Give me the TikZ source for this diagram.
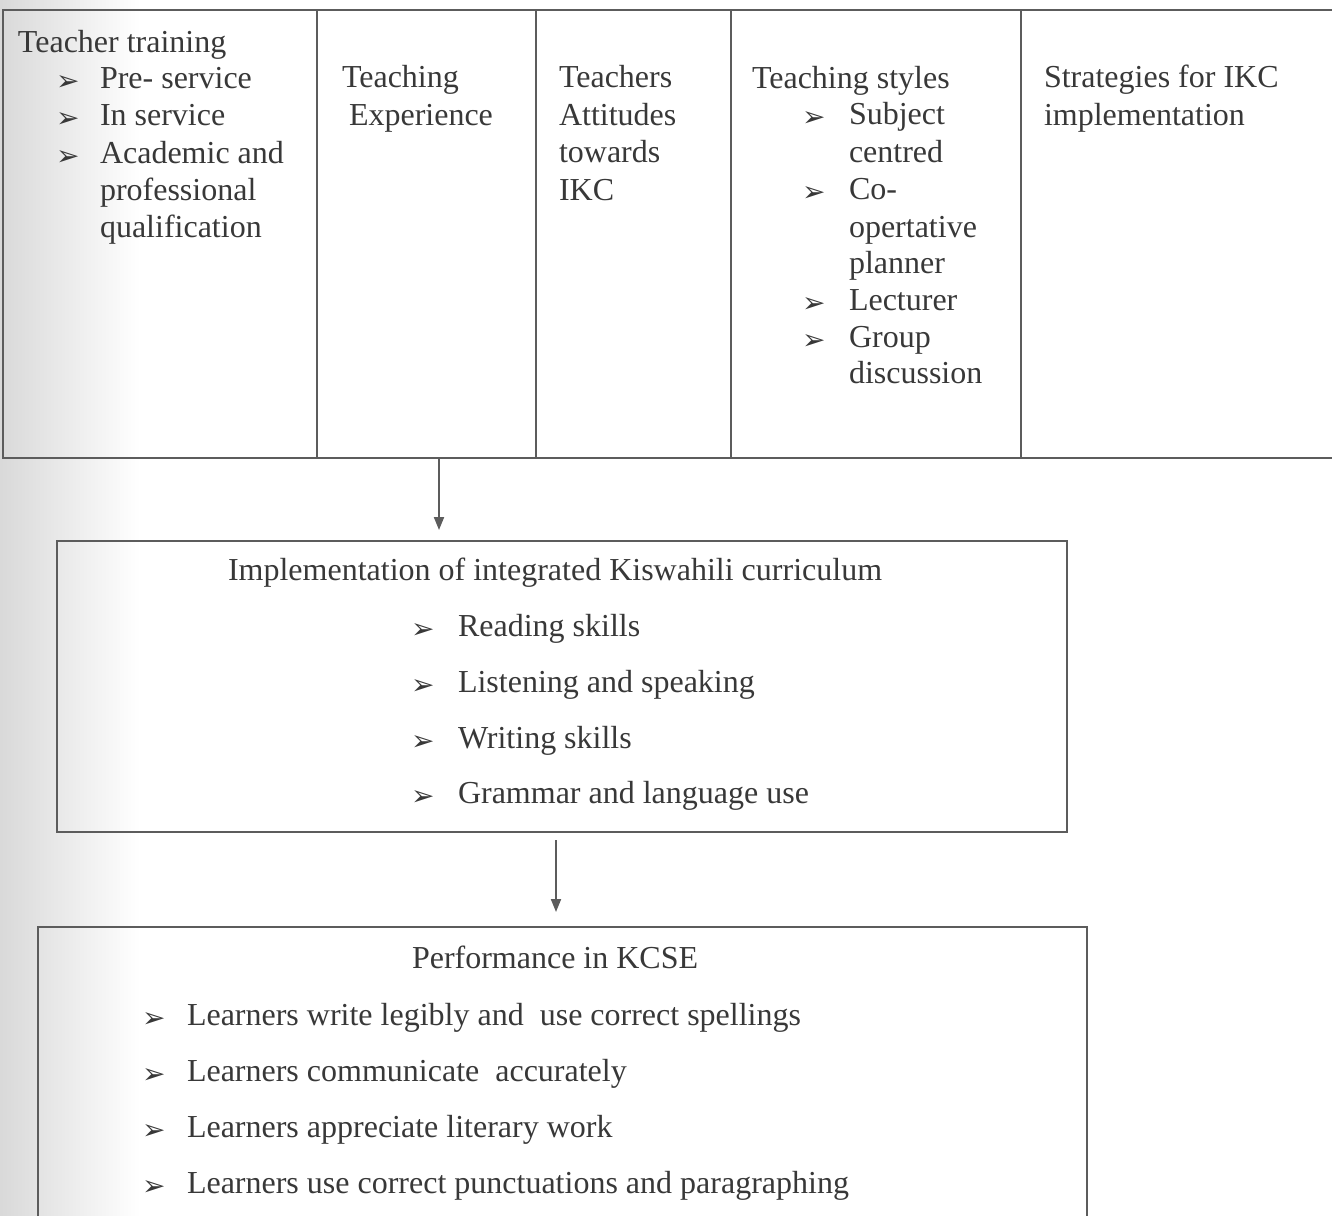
\documentclass[tikz,border=0pt]{standalone}
\usepackage{fontspec}
\setmainfont{Liberation Serif}
\newfontfamily\dvs{DejaVu Sans}
\usetikzlibrary{arrows.meta}
\definecolor{ink}{HTML}{383838}
\definecolor{rule}{HTML}{5C5C5C}
\begin{document}
\begin{tikzpicture}[x=0.5pt,y=-0.5pt,
  txt/.style={anchor=base west,inner sep=0pt,outer sep=0pt,font=\fontsize{16}{19}\selectfont,text=ink},
  bul/.style={anchor=base west,inner sep=0pt,outer sep=0pt,font=\dvs\fontsize{14}{16}\selectfont,text=ink},
  frame/.style={draw=rule,line width=1pt,inner sep=0pt,outer sep=0pt},
  arr/.style={draw=rule,line width=1pt,-{Triangle[length=6.5pt,width=5pt]}}]
\useasboundingbox (0,0) rectangle (1332,1215);
\clip (0,0) rectangle (1332,1215);
\shade[left color=gray!30,right color=white] (0,0) rectangle (140,1215);
% top row
\node[frame,minimum width=157pt,minimum height=224pt] (b1) at (160,234) {};
\node[frame,minimum width=109.5pt,minimum height=224pt] (b2) at (426.5,234) {};
\node[frame,minimum width=97.5pt,minimum height=224pt] (b3) at (633.5,234) {};
\node[frame,minimum width=145pt,minimum height=224pt] (b4) at (876,234) {};
\node[frame,minimum width=162pt,minimum height=224pt] (b5) at (1183,234) {};
% middle and bottom boxes
\node[frame,minimum width=505pt,minimum height=145.5pt] (mid) at (562,686.5) {};
\node[frame,minimum width=524.5pt,minimum height=151.5pt] (bot) at (562.5,1078.5) {};
% connectors
\coordinate (a1) at (439,458);
\coordinate (a2) at (556,832);
\draw[arr,shorten >=5.5pt] (a1) -- (a1 |- mid.north);
\draw[arr,shorten <=4pt,shorten >=7.5pt] (a2) -- (a2 |- bot.north);
% box 1
\node[txt] (t11) at (18,52) {Teacher training};
\node[bul] (k11) at (56,90) {➢};
\node[txt] (t12) at (100,88) {Pre- service};
\node[bul] (k12) at (56,127) {➢};
\node[txt] (t13) at (100,125) {In service};
\node[bul] (k13) at (56,165) {➢};
\node[txt] (t14) at (100,163) {Academic and};
\node[txt] (t15) at (100,200) {professional};
\node[txt] (t16) at (100,237) {qualification};
% box 2
\node[txt] (t21) at (342,87) {Teaching};
\node[txt] (t22) at (349,125) {Experience};
% box 3
\node[txt] (t31) at (559,87) {Teachers};
\node[txt] (t32) at (559,125) {Attitudes};
\node[txt] (t33) at (559,162) {towards};
\node[txt] (t34) at (559,200) {IKC};
% box 4
\node[txt] (t41) at (752,88) {Teaching styles};
\node[bul] (k41) at (802,126) {➢};
\node[txt] (t42) at (849,124) {Subject};
\node[txt] (t43) at (849,162) {centred};
\node[bul] (k42) at (802,201) {➢};
\node[txt] (t44) at (849,199) {Co-};
\node[txt] (t45) at (849,237) {opertative};
\node[txt] (t46) at (849,273) {planner};
\node[bul] (k43) at (802,312) {➢};
\node[txt] (t47) at (849,310) {Lecturer};
\node[bul] (k44) at (802,349) {➢};
\node[txt] (t48) at (849,347) {Group};
\node[txt] (t49) at (849,383) {discussion};
% box 5
\node[txt] (t51) at (1044,87) {Strategies for IKC};
\node[txt] (t52) at (1044,125) {implementation};
% middle box text
\node[txt] (m0) at (228,580) {Implementation of integrated Kiswahili curriculum};
\node[bul] (mk1) at (411,638) {➢};
\node[txt] (m1) at (458,636) {Reading skills};
\node[bul] (mk2) at (411,694) {➢};
\node[txt] (m2) at (458,692) {Listening and speaking};
\node[bul] (mk3) at (411,750) {➢};
\node[txt] (m3) at (458,748) {Writing skills};
\node[bul] (mk4) at (411,805) {➢};
\node[txt] (m4) at (458,803) {Grammar and language use};
% bottom box text
\node[txt] (p0) at (412,968) {Performance in KCSE};
\node[bul] (pk1) at (142,1027) {➢};
\node[txt] (p1) at (187,1025) {Learners write legibly and\ \ use correct spellings};
\node[bul] (pk2) at (142,1083) {➢};
\node[txt] (p2) at (187,1081) {Learners communicate\ \ accurately};
\node[bul] (pk3) at (142,1139) {➢};
\node[txt] (p3) at (187,1137) {Learners appreciate literary work};
\node[bul] (pk4) at (142,1195) {➢};
\node[txt] (p4) at (187,1193) {Learners use correct punctuations and paragraphing};
\end{tikzpicture}
\end{document}
